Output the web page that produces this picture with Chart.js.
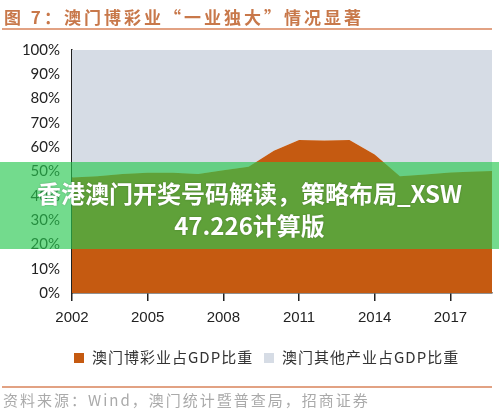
<!DOCTYPE html>
<html>
<head>
<meta charset="utf-8">
<script src="https://cdn.jsdelivr.net/npm/chart.js@4"></script>
<style>
  html, body { margin: 0; padding: 0; background: #fff; }
  #wrap { position: relative; width: 499px; height: 412px; overflow: hidden; font-family: "Noto Sans CJK SC", sans-serif; }
  #chart { position: absolute; left: 0; top: 0; }
  .title { position: absolute; left: 4px; top: 4px; font-size: 17px; font-weight: 700; color: #c8784a; letter-spacing: 3px; white-space: nowrap; }
  .rule { position: absolute; left: 2px; width: 490px; height: 2px; background: #e2a283; }
  .legend { position: absolute; top: 346px; font-size: 15px; color: #333; letter-spacing: 1px; white-space: nowrap; }
  .legend i { display: inline-block; width: 10px; height: 10px; margin-right: 8px; vertical-align: 0px; }
  .source { position: absolute; left: 3px; top: 389px; font-size: 15px; color: #aaa; letter-spacing: 2px; white-space: nowrap; }
  .banner { position: absolute; left: 0; top: 162px; width: 499px; height: 87px; background: rgba(40, 200, 80, 0.65); }
  .banner div { position: absolute; left: 0; width: 499px; text-align: center; color: #fff; font-weight: 700; font-size: 24px; text-shadow: 0 0 2px rgba(0,0,0,0.25); white-space: nowrap; }
</style>
</head>
<body>
<div id="wrap">
  <canvas id="chart" width="499" height="412"></canvas>
  <div class="title">图 7：澳门博彩业“一业独大”情况显著</div>
  <div class="rule" style="top:28px"></div>
  <div class="legend" style="left:74px"><i style="background:#c55a11"></i>澳门博彩业占GDP比重</div>
  <div class="legend" style="left:264px"><i style="background:#d6dce5"></i>澳门其他产业占GDP比重</div>
  <div class="rule" style="top:386px"></div>
  <div class="source">资料来源：Wind，澳门统计暨普查局，招商证券</div>
  <div class="banner">
    <div style="top:13px">香港澳门开奖号码解读，策略布局_XSW</div>
    <div style="top:45px">47.226计算版</div>
  </div>
</div>
<script>
// --- 資料 ---
const years = [2002, 2003, 2004, 2005, 2006, 2007, 2008, 2009, 2010, 2011, 2012, 2013, 2014, 2015, 2016, 2017, 2018, 2018.65];
const gamingShare = [47.5, 48, 49, 49.5, 49.5, 49, 50.5, 52, 58.5, 63, 62.8, 63, 57, 48, 48.8, 49.6, 50, 50.2];
const otherShare = [52.5, 52, 51, 50.5, 50.5, 51, 49.5, 48, 41.5, 37, 37.2, 37, 43, 52, 51.2, 50.4, 50, 49.8];
const xTicks = [2002, 2005, 2008, 2011, 2014, 2017];
const seriesNames = ['澳门博彩业占GDP比重', '澳门其他产业占GDP比重'];

const toPoints = (vals) => vals.map((v, i) => ({ x: years[i], y: v }));

const ctx = document.getElementById('chart').getContext('2d');
new Chart(ctx, {
  type: 'line',
  data: {
    datasets: [
      {
        label: seriesNames[0],
        data: toPoints(gamingShare),
        backgroundColor: '#c55a11',
        borderColor: '#c55a11',
        borderWidth: 0,
        pointRadius: 0,
        fill: 'origin',
        tension: 0
      },
      {
        label: seriesNames[1],
        data: toPoints(otherShare),
        backgroundColor: '#d6dce5',
        borderColor: '#d6dce5',
        borderWidth: 0,
        pointRadius: 0,
        fill: '-1',
        tension: 0
      }
    ]
  },
  options: {
    responsive: false,
    animation: false,
    layout: { padding: { left: 0, top: 50, right: 7, bottom: 89 } },
    plugins: { legend: { display: false }, tooltip: { enabled: false } },
    scales: {
      x: {
        type: 'linear',
        min: 2002,
        max: 2018.65,
        afterBuildTicks: (scale) => { scale.ticks = xTicks.map(v => ({ value: v })); },
        afterFit: (scale) => { scale.height = 30; },
        grid: { drawOnChartArea: false, drawTicks: true, tickLength: 8, color: '#222', lineWidth: 1.5 },
        border: { color: '#222', width: 1.5 },
        ticks: {
          padding: 8,
          color: '#222',
          font: { family: 'Liberation Sans, Arial', size: 15 },
          callback: (v) => String(v),
          maxRotation: 0
        }
      },
      y: {
        stacked: true,
        min: 0,
        max: 100,
        afterFit: (scale) => { scale.width = 72; },
        grid: { display: false, drawTicks: false },
        border: { display: true, color: '#222', width: 1.5 },
        ticks: {
          stepSize: 10,
          padding: 12,
          color: '#222',
          font: { family: 'Lato, Open Sans, sans-serif', size: 15 },
          callback: (v) => v + '%'
        }
      }
    }
  }
});
</script>
</body>
</html>
